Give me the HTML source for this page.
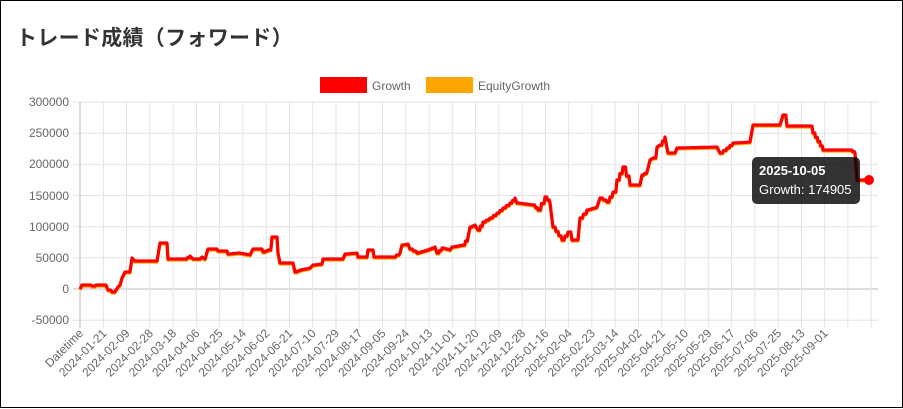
<!DOCTYPE html>
<html><head><meta charset="utf-8"><style>
html,body{margin:0;padding:0;background:#fff;}
body{width:903px;height:409px;overflow:hidden;position:relative;font-family:"Liberation Sans","Noto Sans CJK JP",sans-serif;}
.frame{position:absolute;left:0;top:0;width:901px;height:406px;border:1px solid #000;}
h1{position:absolute;left:16px;top:22px;margin:0;font-size:21px;font-weight:bold;color:#333;font-family:"Liberation Sans","Noto Sans CJK JP",sans-serif;letter-spacing:0.3px}
svg{position:absolute;left:0;top:0}
</style></head><body>
<div class="frame"></div>
<h1>トレード成績（フォワード）</h1>
<svg width="903" height="409" font-family="Liberation Sans, sans-serif">
<rect x="320" y="77" width="47" height="16" fill="#f00"/>
<text x="372" y="90" font-size="12" fill="#666">Growth</text>
<rect x="426" y="77" width="47" height="16" fill="#ffa500"/>
<text x="478" y="90" font-size="12" fill="#666">EquityGrowth</text>
<g stroke="#e3e3e3" stroke-width="1">
<line x1="73" x2="878" y1="102" y2="102"/><line x1="73" x2="878" y1="133.2" y2="133.2"/><line x1="73" x2="878" y1="164.3" y2="164.3"/><line x1="73" x2="878" y1="195.5" y2="195.5"/><line x1="73" x2="878" y1="226.7" y2="226.7"/><line x1="73" x2="878" y1="257.8" y2="257.8"/><line x1="73" x2="878" y1="320.2" y2="320.2"/>
</g>
<line x1="73" x2="878" y1="289" y2="289" stroke="#bbb"/>
<g stroke="#e3e3e3" stroke-width="1">
<line x1="103.3" x2="103.3" y1="102" y2="328"/><line x1="126.5" x2="126.5" y1="102" y2="328"/><line x1="149.8" x2="149.8" y1="102" y2="328"/><line x1="173.1" x2="173.1" y1="102" y2="328"/><line x1="196.4" x2="196.4" y1="102" y2="328"/><line x1="219.6" x2="219.6" y1="102" y2="328"/><line x1="242.9" x2="242.9" y1="102" y2="328"/><line x1="266.2" x2="266.2" y1="102" y2="328"/><line x1="289.4" x2="289.4" y1="102" y2="328"/><line x1="312.7" x2="312.7" y1="102" y2="328"/><line x1="336" x2="336" y1="102" y2="328"/><line x1="359.2" x2="359.2" y1="102" y2="328"/><line x1="382.5" x2="382.5" y1="102" y2="328"/><line x1="405.8" x2="405.8" y1="102" y2="328"/><line x1="429.1" x2="429.1" y1="102" y2="328"/><line x1="452.3" x2="452.3" y1="102" y2="328"/><line x1="475.6" x2="475.6" y1="102" y2="328"/><line x1="498.9" x2="498.9" y1="102" y2="328"/><line x1="522.1" x2="522.1" y1="102" y2="328"/><line x1="545.4" x2="545.4" y1="102" y2="328"/><line x1="568.7" x2="568.7" y1="102" y2="328"/><line x1="591.9" x2="591.9" y1="102" y2="328"/><line x1="615.2" x2="615.2" y1="102" y2="328"/><line x1="638.5" x2="638.5" y1="102" y2="328"/><line x1="661.8" x2="661.8" y1="102" y2="328"/><line x1="685" x2="685" y1="102" y2="328"/><line x1="708.3" x2="708.3" y1="102" y2="328"/><line x1="731.6" x2="731.6" y1="102" y2="328"/><line x1="754.8" x2="754.8" y1="102" y2="328"/><line x1="778.1" x2="778.1" y1="102" y2="328"/><line x1="801.4" x2="801.4" y1="102" y2="328"/><line x1="824.6" x2="824.6" y1="102" y2="328"/><line x1="847.9" x2="847.9" y1="102" y2="328"/><line x1="871.2" x2="871.2" y1="102" y2="328"/>
</g>
<line x1="80" x2="80" y1="102" y2="328" stroke="#bbb"/>
<g font-size="12" fill="#666" text-anchor="end">
<text x="69" y="106">300000</text><text x="69" y="137">250000</text><text x="69" y="168">200000</text><text x="69" y="200">150000</text><text x="69" y="231">100000</text><text x="69" y="262">50000</text><text x="69" y="293">0</text><text x="69" y="324">-50000</text>
</g>
<g font-size="12" fill="#666" text-anchor="end">
<text transform="translate(84,334) rotate(-45)">Datetime</text>
<text transform="translate(107.3,334) rotate(-45)">2024-01-21</text>
<text transform="translate(130.5,334) rotate(-45)">2024-02-09</text>
<text transform="translate(153.8,334) rotate(-45)">2024-02-28</text>
<text transform="translate(177.1,334) rotate(-45)">2024-03-18</text>
<text transform="translate(200.4,334) rotate(-45)">2024-04-06</text>
<text transform="translate(223.6,334) rotate(-45)">2024-04-25</text>
<text transform="translate(246.9,334) rotate(-45)">2024-05-14</text>
<text transform="translate(270.2,334) rotate(-45)">2024-06-02</text>
<text transform="translate(293.4,334) rotate(-45)">2024-06-21</text>
<text transform="translate(316.7,334) rotate(-45)">2024-07-10</text>
<text transform="translate(340,334) rotate(-45)">2024-07-29</text>
<text transform="translate(363.2,334) rotate(-45)">2024-08-17</text>
<text transform="translate(386.5,334) rotate(-45)">2024-09-05</text>
<text transform="translate(409.8,334) rotate(-45)">2024-09-24</text>
<text transform="translate(433.1,334) rotate(-45)">2024-10-13</text>
<text transform="translate(456.3,334) rotate(-45)">2024-11-01</text>
<text transform="translate(479.6,334) rotate(-45)">2024-11-20</text>
<text transform="translate(502.9,334) rotate(-45)">2024-12-09</text>
<text transform="translate(526.1,334) rotate(-45)">2024-12-28</text>
<text transform="translate(549.4,334) rotate(-45)">2025-01-16</text>
<text transform="translate(572.7,334) rotate(-45)">2025-02-04</text>
<text transform="translate(595.9,334) rotate(-45)">2025-02-23</text>
<text transform="translate(619.2,334) rotate(-45)">2025-03-14</text>
<text transform="translate(642.5,334) rotate(-45)">2025-04-02</text>
<text transform="translate(665.8,334) rotate(-45)">2025-04-21</text>
<text transform="translate(689,334) rotate(-45)">2025-05-10</text>
<text transform="translate(712.3,334) rotate(-45)">2025-05-29</text>
<text transform="translate(735.6,334) rotate(-45)">2025-06-17</text>
<text transform="translate(758.8,334) rotate(-45)">2025-07-06</text>
<text transform="translate(782.1,334) rotate(-45)">2025-07-25</text>
<text transform="translate(805.4,334) rotate(-45)">2025-08-13</text>
<text transform="translate(828.6,334) rotate(-45)">2025-09-01</text>
</g>
<g fill="none" stroke-width="3.2" stroke-linejoin="round">
<polyline class="st" stroke="#ffa500" transform="translate(0,1)" points="80,289 82,285 88,285 92,286 96,285 106,285 108,290 112,292 116,290 118,287 120,285 122,278 125,272 130,272 132,258 135,261 157,261 160,243 167,243 168,259 185,259 190,256 193,259 200,259 202,257 205,259 208,249 217,249 218,251 227,251 228,254 238,253 250,255 253,249 262,249 263,252 268,250 272,237 277,237 278,253 280,263 293,263 295,272 300,270 310,268 313,265 322,264 323,259 343,259 345,254 357,253 358,257 367,257 368,250 373,250 374,257 393,257 400,253 402,245 408,244 410,249 417,253 427,250 435,247 437,253 442,248 450,250 452,247 463,245 468,237 470,227 475,225 478,230 483,222 490,218 497,213 503,208 510,203 515,198 517,203 533,205 538,210 545,197 550,203 553,227 562,240 568,232 572,240 578,240 580,218 587,210 597,207 600,198 607,202 613,192 617,180 623,167 630,185 640,185 642,175 647,172 650,160 653,158 657,147 660,145 665,137 668,153 675,153 677,148 717,147 720,153 727,148 733,143 750,142 753,125 780,125 783,115 787,126 812,126 813,133 823,150 850,150 855,153 857,180 869,180"/>
<polyline class="st" stroke="#f00" points="80,289 82,285 88,285 92,286 96,285 106,285 108,290 112,292 116,290 118,287 120,285 122,278 125,272 130,272 132,258 135,261 157,261 160,243 167,243 168,259 185,259 190,256 193,259 200,259 202,257 205,259 208,249 217,249 218,251 227,251 228,254 238,253 250,255 253,249 262,249 263,252 268,250 272,237 277,237 278,253 280,263 293,263 295,272 300,270 310,268 313,265 322,264 323,259 343,259 345,254 357,253 358,257 367,257 368,250 373,250 374,257 393,257 400,253 402,245 408,244 410,249 417,253 427,250 435,247 437,253 442,248 450,250 452,247 463,245 468,237 470,227 475,225 478,230 483,222 490,218 497,213 503,208 510,203 515,198 517,203 533,205 538,210 545,197 550,203 553,227 562,240 568,232 572,240 578,240 580,218 587,210 597,207 600,198 607,202 613,192 617,180 623,167 630,185 640,185 642,175 647,172 650,160 653,158 657,147 660,145 665,137 668,153 675,153 677,148 717,147 720,153 727,148 733,143 750,142 753,125 780,125 783,115 787,126 812,126 813,133 823,150 850,150 855,153 857,180 869,180"/>
</g>
<circle cx="869" cy="180" r="5" fill="#f00"/>
<rect x="752" y="157" width="108" height="47" rx="5" fill="rgba(0,0,0,0.8)"/>
<text x="759" y="175" font-size="13" font-weight="bold" fill="#fff">2025-10-05</text>
<text x="759" y="194" font-size="13" fill="#fff">Growth: 174905</text>
</svg>
<script>
document.querySelectorAll('polyline.st').forEach(function(p){
  var pts=p.getAttribute('points').trim().split(/\s+/).map(function(s){return s.split(',').map(Number);});
  var out=[pts[0]];
  for(var i=1;i<pts.length;i++){
    var a=pts[i-1],b=pts[i];
    if(b[0]-a[0]>3){
      var n=Math.floor((b[0]-a[0])/2.5);
      for(var k=1;k<=n;k++){
        var x=a[0]+(b[0]-a[0])*k/n, yPrev=a[1]+(b[1]-a[1])*(k-1)/n, y=a[1]+(b[1]-a[1])*k/n;
        var xs=x-(b[0]-a[0])/n*0.3;
        out.push([xs,yPrev]);out.push([x,y]);
      }
    } else out.push(b);
  }
  p.setAttribute('points',out.map(function(q){return q[0].toFixed(1)+','+q[1].toFixed(1);}).join(' '));
});
</script>
</body></html>
